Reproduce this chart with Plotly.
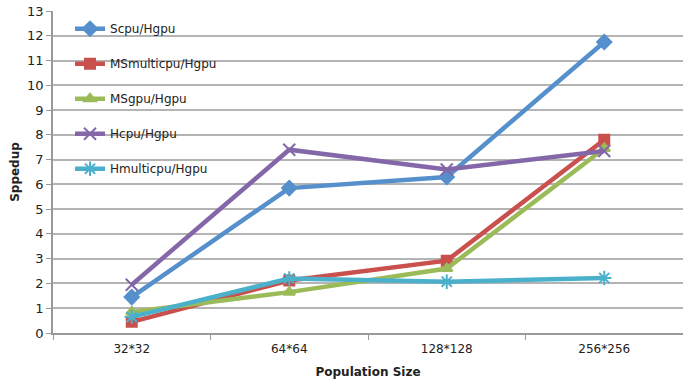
import plotly.graph_objects as go

categories = ["32*32", "64*64", "128*128", "256*256"]
scpu_hgpu = [1.45, 5.85, 6.3, 11.75]
msmulticpu_hgpu = [0.45, 2.12, 2.92, 7.8]
msgpu_hgpu = [0.85, 1.65, 2.6, 7.45]
hcpu_hgpu = [1.95, 7.4, 6.6, 7.35]
hmulticpu_hgpu = [0.65, 2.2, 2.07, 2.22]
y_ticks = list(range(0, 14))

series = [
    ("Scpu/Hgpu", scpu_hgpu, "#5590CC", "diamond", 11),
    ("MSmulticpu/Hgpu", msmulticpu_hgpu, "#C9504D", "square", 10),
    ("MSgpu/Hgpu", msgpu_hgpu, "#9BBB59", "triangle-up", 10),
    ("Hcpu/Hgpu", hcpu_hgpu, "#8467A8", "x-thin-open", 12),
    ("Hmulticpu/Hgpu", hmulticpu_hgpu, "#4BB0CA", "asterisk-open", 12),
]

fig = go.Figure()
for i, (name, vals, color, sym, size) in enumerate(series):
    fig.add_trace(go.Scatter(
        x=categories, y=vals, name=name, mode="lines+markers",
        legendgroup=f"g{i}",
        line=dict(color=color, width=4.5),
        marker=dict(symbol=sym, size=size, color=color,
                    line=dict(color=color, width=2)),
    ))

font_family = "DejaVu Sans, Verdana, sans-serif"
fig.update_layout(
    width=683, height=382,
    margin=dict(l=53, r=0, t=11, b=49),
    paper_bgcolor="white", plot_bgcolor="white",
    font=dict(family=font_family, size=12, color="#222222"),
    showlegend=True,
    legend=dict(x=0.027, y=0.99, xanchor="left", yanchor="top",
                bgcolor="rgba(0,0,0,0)", tracegroupgap=16,
                font=dict(size=12, color="#222222"),
                itemwidth=30),
    xaxis=dict(
        type="category", range=[-0.5, 3.5],
        showgrid=False, showline=True, linecolor="#999999", linewidth=1.5,
        ticks="outside", tickson="boundaries", ticklen=5, tickcolor="#999999",
        ticklabelstandoff=4,
        tickfont=dict(size=12, color="#222222"),
        title=dict(text="<b>Population Size</b>", font=dict(size=12), standoff=12),
    ),
    yaxis=dict(
        range=[0, 13], tickvals=y_ticks, showgrid=True, gridcolor="#B4B4B4",
        gridwidth=1.5, zeroline=False,
        showline=True, linecolor="#999999", linewidth=1.5,
        ticks="outside", ticklen=5, tickcolor="#999999",
        tickfont=dict(size=13, color="#222222"),
        title=dict(text="<b>Sppedup</b>", font=dict(size=12), standoff=5),
    ),
)

fig.write_html("out.html", config={"displayModeBar": False},
               post_script="document.body.style.margin='0';")
